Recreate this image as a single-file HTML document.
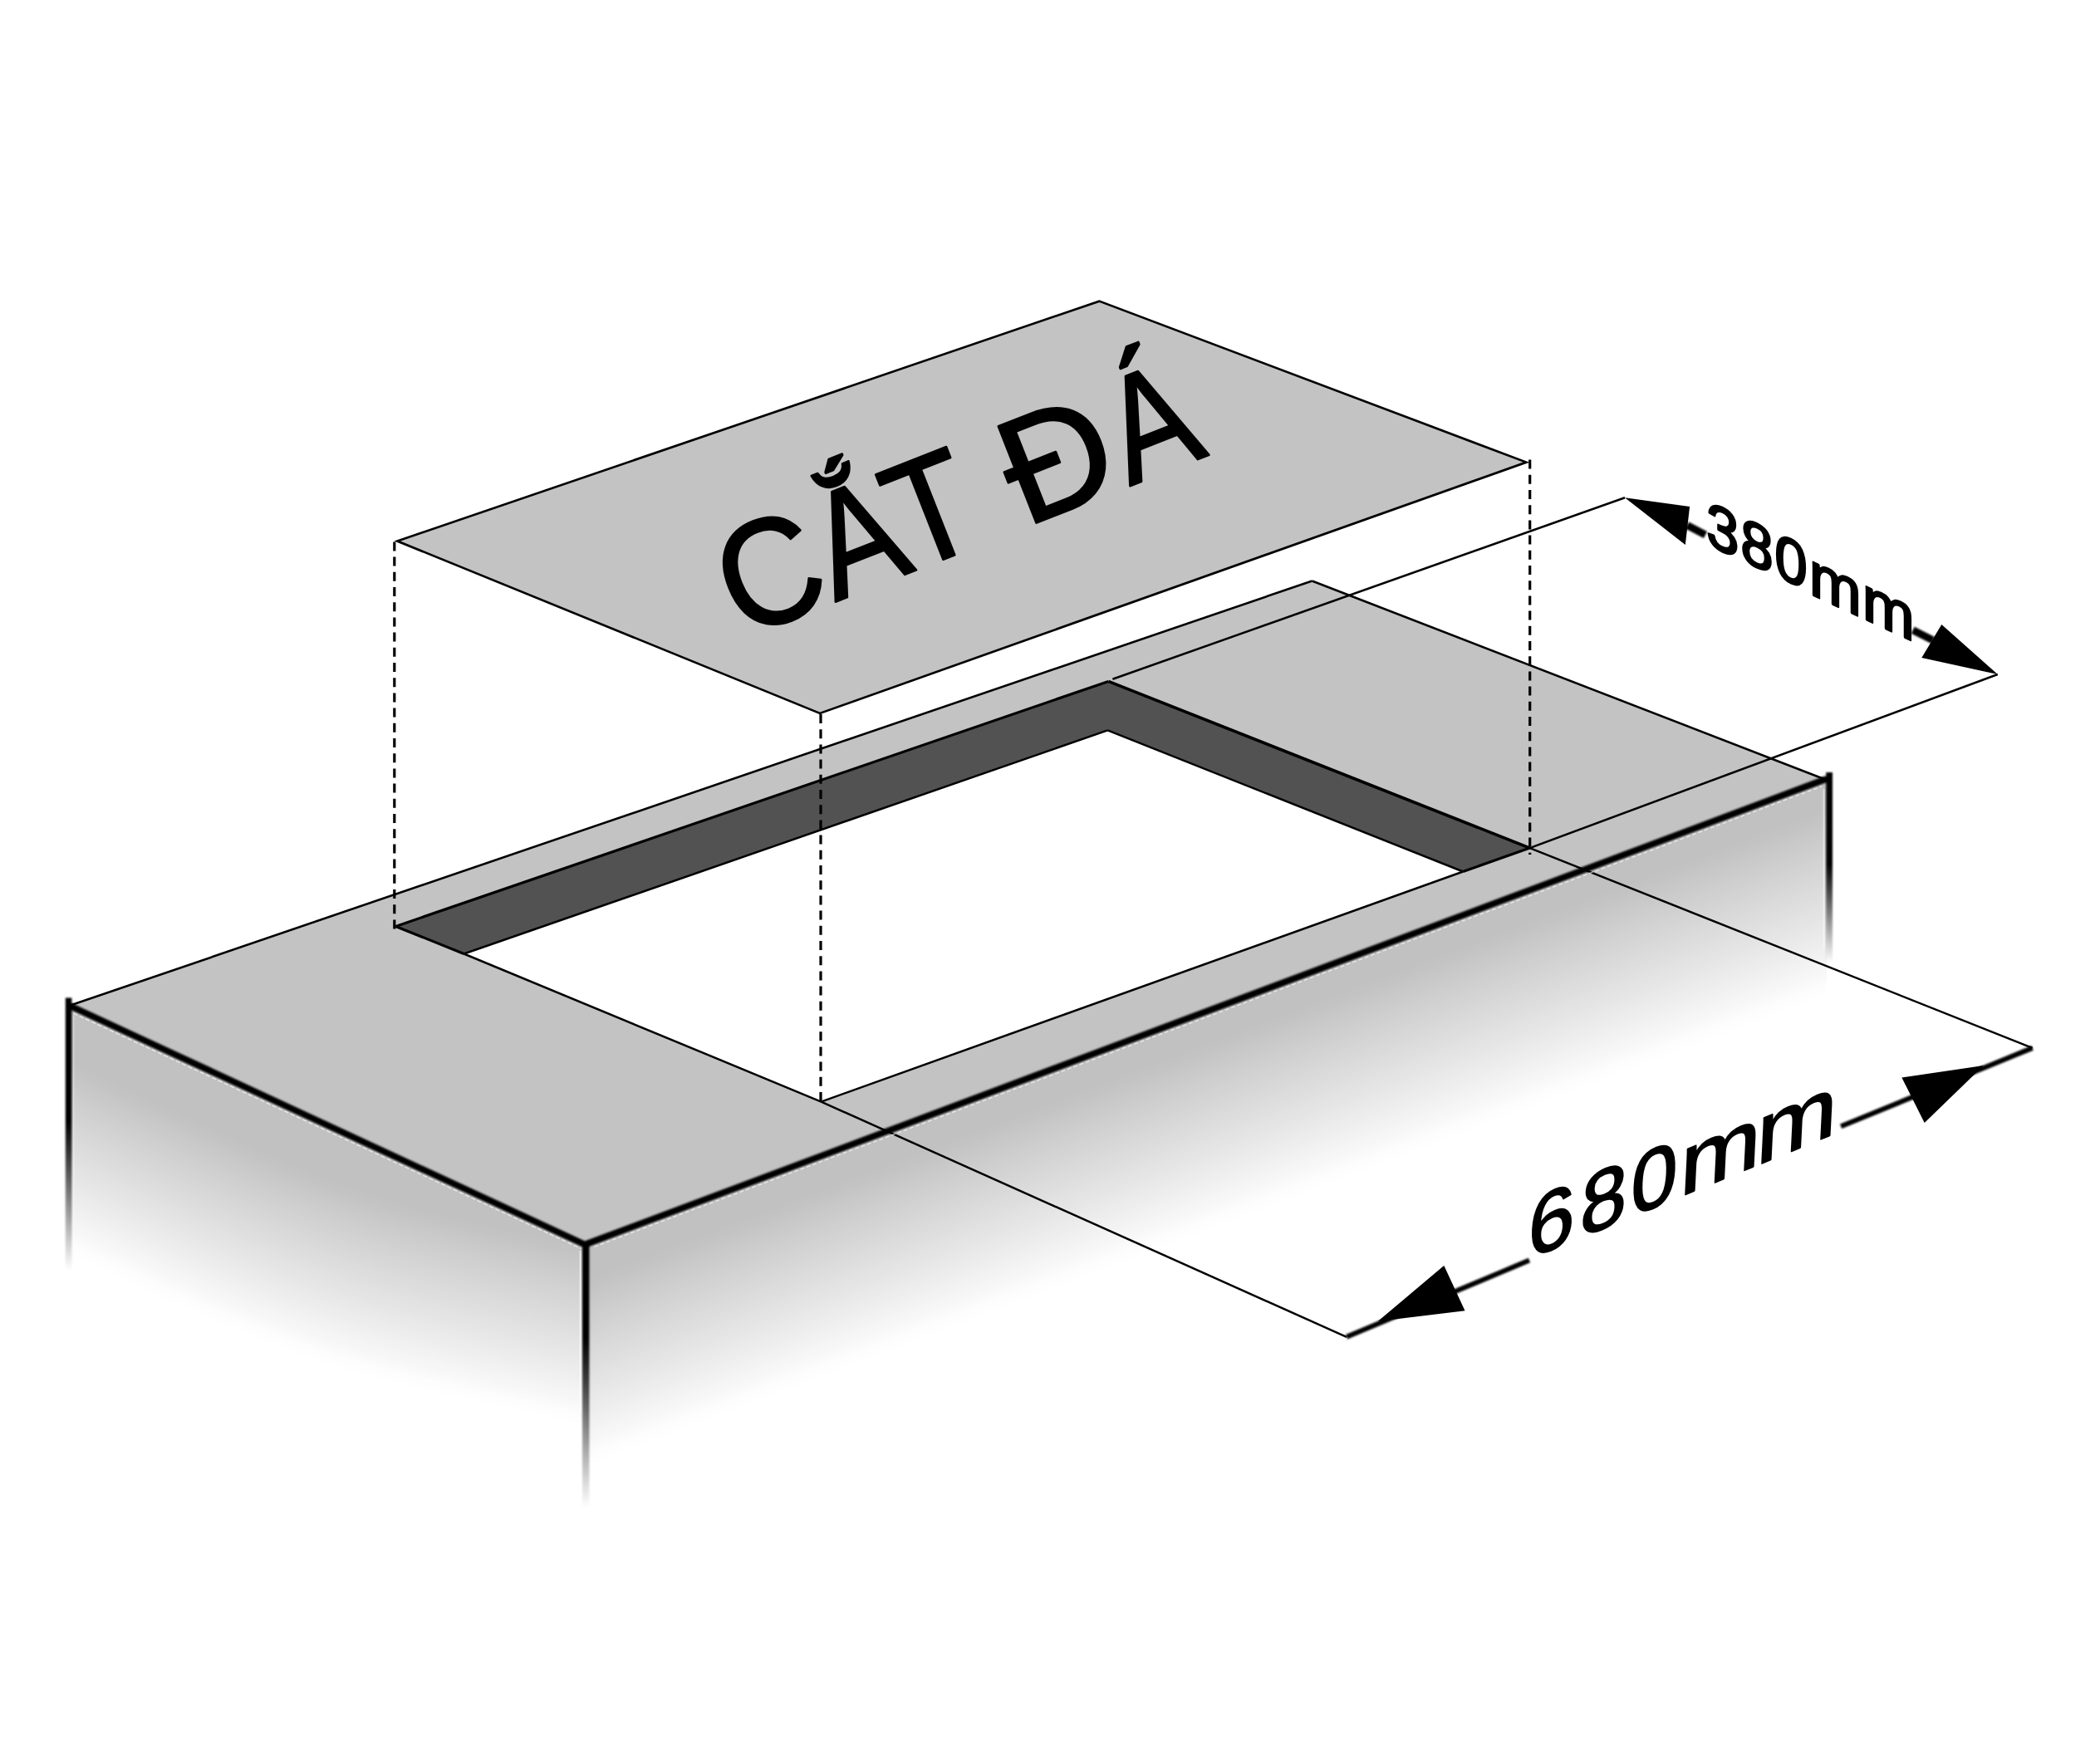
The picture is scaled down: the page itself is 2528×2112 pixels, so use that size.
<!DOCTYPE html>
<html><head><meta charset="utf-8"><title>Cat da</title>
<style>
html,body{margin:0;padding:0;background:#fff;}
body{width:2528px;height:2112px;overflow:hidden;font-family:"Liberation Sans",sans-serif;}
svg{display:block;}
text{font-family:"Liberation Sans",sans-serif;fill:#000;}
</style></head><body>
<svg width="2528" height="2112" viewBox="0 0 2528 2112">
<defs>
<linearGradient id="gl" gradientUnits="userSpaceOnUse" x1="85.5" y1="1210.3" x2="-29.1" y2="1457.1"><stop offset="0" stop-color="#bebebe"/><stop offset="0.3" stop-color="#c2c2c2"/><stop offset="1" stop-color="#ffffff"/></linearGradient>
<linearGradient id="gr" gradientUnits="userSpaceOnUse" x1="706.0" y1="1498.5" x2="785.0" y2="1708.8"><stop offset="0" stop-color="#bebebe"/><stop offset="0.25" stop-color="#c4c4c4"/><stop offset="1" stop-color="#ffffff"/></linearGradient>
<linearGradient id="vL" gradientUnits="userSpaceOnUse" x1="0" y1="1350" x2="0" y2="1530"><stop offset="0" stop-color="#000" stop-opacity="1"/><stop offset="1" stop-color="#000" stop-opacity="0"/></linearGradient>
<linearGradient id="vN" gradientUnits="userSpaceOnUse" x1="0" y1="1610" x2="0" y2="1815"><stop offset="0" stop-color="#000" stop-opacity="1"/><stop offset="1" stop-color="#000" stop-opacity="0"/></linearGradient>
<linearGradient id="vR" gradientUnits="userSpaceOnUse" x1="0" y1="1040" x2="0" y2="1160"><stop offset="0" stop-color="#000" stop-opacity="1"/><stop offset="1" stop-color="#000" stop-opacity="0"/></linearGradient>
<filter id="b1" x="-5%" y="-5%" width="110%" height="110%"><feGaussianBlur stdDeviation="1.1"/></filter>
<filter id="bf" filterUnits="userSpaceOnUse" x="-700" y="500" width="3900" height="2300"><feGaussianBlur stdDeviation="55"/><feComponentTransfer><feFuncA type="table" tableValues="0.0000 0.0000 0.0385 0.0848 0.1199 0.1487 0.1735 0.1953 0.2150 0.2330 0.2498 0.2654 0.2802 0.2942 0.3076 0.3205 0.3329 0.3449 0.3565 0.3678 0.3789 0.3897 0.4003 0.4108 0.4211 0.4312 0.4412 0.4512 0.4610 0.4708 0.4806 0.4903 0.5000 0.5097 0.5194 0.5292 0.5390 0.5488 0.5588 0.5688 0.5789 0.5892 0.5997 0.6103 0.6211 0.6322 0.6435 0.6551 0.6671 0.6795 0.6924 0.7058 0.7198 0.7346 0.7502 0.7670 0.7850 0.8047 0.8265 0.8513 0.8801 0.9152 0.9615 1.0000 1.0000"/></feComponentTransfer></filter>
</defs>
<rect width="2528" height="2112" fill="#fff"/>
<clipPath id="cl"><polygon points="80.0,1209.2 706.0,1499.5 706.0,1959.5 80.0,1669.2"/></clipPath>
<clipPath id="cr"><polygon points="706.0,1499.5 2205.0,935.5 2205.0,1395.5 706.0,1959.5"/></clipPath>
<g clip-path="url(#cl)"><polygon points="83.5,1210.8 709.0,1500.9 709.0,1829.5 83.5,1555.8" fill="#c1c1c1"/><polygon filter="url(#bf)" fill="#fff" points="-500.0,1118.0 100.0,1400.0 300.0,1494.0 450.0,1551.0 690.0,1604.0 1300.0,1738.0 1300.0,2600.0 -500.0,2600.0"/></g>
<g clip-path="url(#cr)"><polygon points="703.0,1500.6 2199.0,937.7 2199.0,1267.7 703.0,1829.5" fill="#c1c1c1"/><polygon filter="url(#bf)" fill="#fff" points="0.0,1916.2 706.0,1651.0 2197.0,1085.0 2800.0,858.5 2800.0,2600.0 0.0,2600.0"/></g>
<path d="M85.5,1210.3 L1579.5,699.5 L2197.0,938.5 L706.0,1498.5 Z M476.4,1115.4 L988.5,1326.6 L1841.6,1021.1 L1334.3,820.4 Z" fill="#c3c3c3" fill-rule="evenodd"/>
<polygon points="476.4,1115.4 1334.3,820.4 1841.6,1021.1 1761.2,1049.5 1333.4,879.4 558.5,1148.5" fill="#525252"/>
<line x1="85.5" y1="1210.3" x2="1579.5" y2="699.5" stroke="#000" stroke-width="2.6" />
<line x1="1579.5" y1="699.5" x2="2197.0" y2="938.5" stroke="#000" stroke-width="2.6" />
<line x1="476.4" y1="1115.4" x2="1334.3" y2="820.4" stroke="#000" stroke-width="3.2" />
<line x1="1334.3" y1="820.4" x2="1841.6" y2="1021.1" stroke="#000" stroke-width="3.6" />
<line x1="476.4" y1="1115.4" x2="558.5" y2="1148.5" stroke="#000" stroke-width="3.2" />
<line x1="1841.6" y1="1021.1" x2="1761.2" y2="1049.5" stroke="#000" stroke-width="3.2" />
<line x1="558.5" y1="1148.5" x2="1333.4" y2="879.4" stroke="#000" stroke-width="2.5" />
<line x1="1333.4" y1="879.4" x2="1761.2" y2="1049.5" stroke="#000" stroke-width="2.5" />
<line x1="558.5" y1="1148.5" x2="988.5" y2="1326.6" stroke="#000" stroke-width="2.5" />
<line x1="1761.2" y1="1049.5" x2="988.5" y2="1326.6" stroke="#000" stroke-width="2.5" />
<line x1="1339.4" y1="817.8" x2="1956.0" y2="599.2" stroke="#000" stroke-width="2.5" />
<line x1="1841.6" y1="1021.1" x2="2404.8" y2="812.0" stroke="#000" stroke-width="2.5" />
<line x1="988.5" y1="1326.6" x2="1621.0" y2="1609.8" stroke="#000" stroke-width="2.5" />
<line x1="1841.6" y1="1021.1" x2="2446.6" y2="1261.9" stroke="#000" stroke-width="2.5" />
<g filter="url(#b1)">
<line x1="85.0" y1="1211.5" x2="706.0" y2="1499.5" stroke="#000" stroke-width="7.8" stroke-linecap="round"/>
<line x1="707.0" y1="1497.5" x2="2197.0" y2="938.5" stroke="#000" stroke-width="7.8" stroke-linecap="round"/>
<rect x="78.8" y="1201.5" width="7.6" height="330" fill="url(#vL)"/>
<rect x="701.0" y="1497" width="8.4" height="340" fill="url(#vN)"/>
<rect x="2198.2" y="930" width="7.8" height="240" fill="url(#vR)"/>
</g>
<line x1="88.3" y1="1220.0" x2="699.3" y2="1503.3" stroke="#fff" stroke-opacity="0.6" stroke-width="1.6" stroke-dasharray="5.5 2.5"/>
<line x1="715.2" y1="1501.2" x2="2193.2" y2="946.6" stroke="#fff" stroke-opacity="0.6" stroke-width="1.6" stroke-dasharray="5 2.8"/>
<line x1="698.6" y1="1506" x2="698.6" y2="1700" stroke="#fff" stroke-opacity="0.7" stroke-width="1.8"/>
<line x1="88.6" y1="1222" x2="88.6" y2="1500" stroke="#fff" stroke-opacity="0.35" stroke-width="1.6"/>
<line x1="2195.6" y1="950" x2="2195.6" y2="1140" stroke="#fff" stroke-opacity="0.5" stroke-width="1.8"/>
<polygon points="478.3,651.5 1323.3,362.6 1837.4,556.6 987.0,858.9" fill="#c3c3c3" stroke="#000" stroke-width="2.7" stroke-linejoin="miter"/>
<line x1="474.8" y1="652.4" x2="474.8" y2="1124" stroke="#000" stroke-width="3.2" stroke-dasharray="11 7.2"/>
<line x1="988" y1="860" x2="988" y2="1331.5" stroke="#000" stroke-width="3.2" stroke-dasharray="11 7.2"/>
<line x1="1841.7" y1="553.6" x2="1841.7" y2="1029" stroke="#000" stroke-width="3.2" stroke-dasharray="11 7.2"/>
<text transform="translate(892.7 769.2) rotate(-21.5) scale(0.925 1)" font-size="181.5" stroke="#000" stroke-width="2.8" stroke-linejoin="round">C</text>
<text transform="translate(1005.6 724.8) rotate(-21.5) scale(0.87 1)" font-size="181.5" stroke="#000" stroke-width="2.8" stroke-linejoin="round">Ắ</text>
<text transform="translate(1096.6 688.9) rotate(-21.5) scale(0.89 1)" font-size="181.5" stroke="#000" stroke-width="2.8" stroke-linejoin="round">T</text>
<text transform="translate(1233.8 634.9) rotate(-21.5) scale(1.0 1)" font-size="181.5" stroke="#000" stroke-width="2.8" stroke-linejoin="round">Đ</text>
<text transform="translate(1360.0 585.2) rotate(-21.5) scale(0.85 1)" font-size="181.5" stroke="#000" stroke-width="2.8" stroke-linejoin="round">Á</text>
<text transform="matrix(0.936 0.4306 0 1 2054.3 654.7)" font-size="75" stroke="#000" stroke-width="2.8" stroke-linejoin="round">3</text>
<text transform="matrix(0.936 0.4306 0 1 2095.6 673.7)" font-size="75" stroke="#000" stroke-width="2.8" stroke-linejoin="round">8</text>
<text transform="matrix(0.936 0.4306 0 1 2136.6 692.6)" font-size="75" stroke="#000" stroke-width="2.8" stroke-linejoin="round">0</text>
<text transform="matrix(1.003 0.4614 0 1 2177.9 714.6)" font-size="75" stroke="#000" stroke-width="2.8" stroke-linejoin="round">m</text>
<text transform="matrix(1.003 0.4614 0 1 2241.9 744.1)" font-size="75" stroke="#000" stroke-width="2.8" stroke-linejoin="round">m</text>
<text transform="matrix(0.968 -0.3969 -0.05 1 1838.2 1516.7)" font-size="104" stroke="#000" stroke-width="2.0" stroke-linejoin="round">6</text>
<text transform="matrix(0.968 -0.3969 -0.05 1 1900.9 1491.0)" font-size="104" stroke="#000" stroke-width="2.0" stroke-linejoin="round">8</text>
<text transform="matrix(0.968 -0.3969 -0.05 1 1961.8 1466.0)" font-size="104" stroke="#000" stroke-width="2.0" stroke-linejoin="round">0</text>
<text transform="matrix(1.118 -0.4584 -0.05 1 2021.3 1441.6)" font-size="104" stroke="#000" stroke-width="2.0" stroke-linejoin="round">m</text>
<text transform="matrix(1.118 -0.4584 -0.05 1 2113.3 1403.9)" font-size="104" stroke="#000" stroke-width="2.0" stroke-linejoin="round">m</text>
<polygon points="1956.0,599.2 2034.1,609.9 2028.8,656.0" fill="#000"/>
<polygon points="2404.8,812.0 2337.3,752.0 2313.3,792.0" fill="#000"/>
<g filter="url(#b1)">
<line x1="2031.0" y1="632.5" x2="2053.0" y2="644.0" stroke="#000" stroke-width="9" />
<line x1="2302.7" y1="758.7" x2="2327.0" y2="771.0" stroke="#000" stroke-width="9" />
<line x1="1621.0" y1="1609.8" x2="1841.0" y2="1517.6" stroke="#000" stroke-width="6" />
<line x1="2216.1" y1="1356.2" x2="2446.6" y2="1261.9" stroke="#000" stroke-width="6" />
</g>
<polygon points="1658.7,1590.9 1738.3,1523.9 1763.5,1578.3" fill="#000"/>
<polygon points="2387.9,1282.9 2289.4,1297.5 2316.7,1352.0" fill="#000"/>
</svg></body></html>
